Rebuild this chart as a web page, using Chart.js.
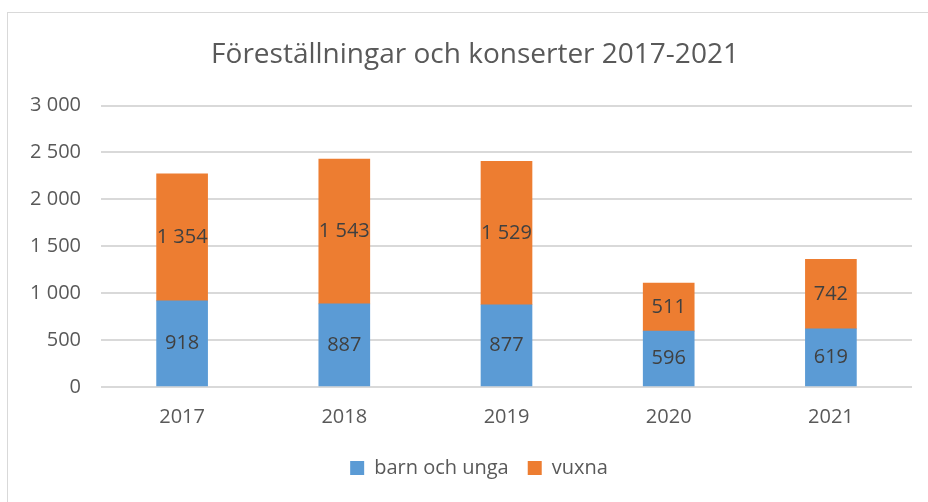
<!DOCTYPE html>
<html>
<head>
<meta charset="utf-8">
<script src="https://cdn.jsdelivr.net/npm/chart.js@4"></script>
<style>
  html, body { margin: 0; padding: 0; background: #fff; overflow: hidden; }
  #frame {
    position: absolute; left: 7px; top: 12px; width: 940px; height: 520px;
    border: 1.5px solid #d9d9d9; box-sizing: border-box;
  }
  #wrap { position: absolute; left: 0; top: 0; width: 928px; height: 502px; }
</style>
</head>
<body>
<div id="frame"></div>
<div id="wrap"><canvas id="chart"></canvas></div>
<script>
const years = ['2017', '2018', '2019', '2020', '2021'];
const barnOchUnga = [918, 887, 877, 596, 619];
const vuxna = [1354, 1543, 1529, 511, 742];
const yTicks = [0, 500, 1000, 1500, 2000, 2500, 3000];

const FONT = "'Open Sans', 'Noto Sans', sans-serif";

// svenska tusentalsavgränsare: "1 354"
function fmt(v) {
    return String(v).replace(/\B(?=(\d{3})+(?!\d))/g, ' ');
}

const barLabels = {
    id: 'barLabels',
    afterDatasetsDraw(chart) {
        const ctx = chart.ctx;
        ctx.save();
        ctx.font = '20px ' + FONT;
        ctx.fillStyle = '#404040';
        ctx.textAlign = 'center';
        ctx.textBaseline = 'middle';
        chart.data.datasets.forEach((ds, i) => {
            chart.getDatasetMeta(i).data.forEach((bar, j) => {
                const y = (bar.y + bar.base) / 2;
                ctx.fillText(fmt(ds.data[j]), bar.x, y);
            });
        });
        ctx.restore();
    }
};

// the original frame is wider than the window, so title and legend sit a bit right of centre
const shiftBlocks = {
    id: 'shiftBlocks',
    afterLayout(chart) {
        if (chart.titleBlock) { chart.titleBlock.left += 9; chart.titleBlock.right += 9; }
        if (chart.legend) { chart.legend.left += 13; chart.legend.right += 13; }
    }
};

new Chart(document.getElementById('chart'), {
    type: 'bar',
    data: {
        labels: years,
        datasets: [
            { label: 'barn och unga', data: barnOchUnga, backgroundColor: '#5B9BD5', barThickness: 51 },
            { label: 'vuxna', data: vuxna, backgroundColor: '#ED7D31', barThickness: 51 }
        ]
    },
    options: {
        responsive: true,
        maintainAspectRatio: false,
        animation: false,
        layout: { padding: { left: 20, right: 16, top: 38, bottom: 14 } },
        plugins: {
            title: {
                display: true,
                text: 'Föreställningar och konserter 2017-2021',
                color: '#595959',
                font: { family: FONT, size: 28, weight: 'normal' },
                padding: { top: 0, bottom: 34 }
            },
            legend: {
                position: 'bottom',
                labels: {
                    color: '#595959',
                    font: { family: FONT, size: 20 },
                    boxWidth: 14,
                    boxHeight: 14,
                    padding: 19
                }
            },
            tooltip: { enabled: false }
        },
        scales: {
            x: {
                stacked: true,
                grid: { display: false },
                border: { display: false },
                ticks: { color: '#595959', font: { family: FONT, size: 20 }, padding: 10 }
            },
            y: {
                stacked: true,
                min: 0,
                max: 3000,
                afterBuildTicks: (scale) => { scale.ticks = yTicks.map(v => ({ value: v })); },
                afterFit: (scale) => { scale.width = 81; },
                grid: { color: '#d9d9d9', lineWidth: 2, drawTicks: false },
                border: { display: false },
                ticks: {
                    color: '#595959',
                    font: { family: FONT, size: 20 },
                    padding: 20,
                    callback: (v) => fmt(v)
                }
            }
        }
    },
    plugins: [barLabels, shiftBlocks]
});
</script>
</body>
</html>
